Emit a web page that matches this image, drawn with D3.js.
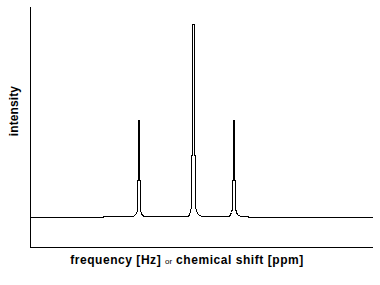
<!DOCTYPE html>
<html>
<head>
<meta charset="utf-8">
<script src="https://cdn.jsdelivr.net/npm/d3@7"></script>
<style>
  body { margin: 0; background: #fff; }
  svg { display: block; font-family: "Liberation Sans", Arial, sans-serif; }
</style>
</head>
<body>
<svg></svg>
<script>
// spectrum: frequency (arbitrary Hz) and intensity (arbitrary)
var freq = [0, 73, 73, 103, 104, 106, 107, 107, 108, 108, 109, 109, 110, 110, 111, 112, 114, 116,
            158, 159, 160, 161, 161, 162, 162, 164, 164, 165, 165, 166, 168, 171,
            199, 200, 201, 202, 202, 203, 203, 204, 204, 205, 205, 206, 207, 210, 218, 218, 342]
var intensity = [0, 0, 1, 1, 2, 4, 7, 37, 37, 97, 97, 37, 37, 7, 4, 2, 1, 1,
                 1, 3, 6, 11, 62, 62, 193, 193, 62, 62, 11, 6, 3, 1,
                 1, 3, 5, 9, 37, 37, 97, 97, 37, 37, 9, 5, 3, 1, 1, 0, 0]
var freqRange = [0, 342]
var intensityRange = [-30, 211]
var xLabel = ['frequency [Hz] ', 'or', ' chemical shift [ppm]']
var yLabel = 'intensity'

function main() {
    var svgWidth = 380, svgHeight = 285
    var svg = d3.select('svg').attr('width', svgWidth).attr('height', svgHeight)

    var xScale = d3.scaleLinear().domain(freqRange).range([30.5, 372.5])
    var yScale = d3.scaleLinear().domain(intensityRange).range([247.5, 6.5])

    // axes: just the two lines, no ticks
    svg.append('path')
        .attr('d', d3.line()([[xScale(freqRange[0]), yScale(intensityRange[1])],
                              [xScale(freqRange[0]), yScale(intensityRange[0])],
                              [xScale(freqRange[1]), yScale(intensityRange[0])]]))
        .attr('fill', 'none')
        .attr('stroke', '#000')
        .attr('shape-rendering', 'crispEdges')

    var points = freq.map(function(f, i) { return [f, intensity[i]] })
    var line = d3.line()
        .x(function(d) { return xScale(d[0]) })
        .y(function(d) { return yScale(d[1]) })

    svg.append('path')
        .datum(points)
        .attr('d', line)
        .attr('fill', 'none')
        .attr('stroke', '#000')
        .attr('stroke-width', 1)
        .attr('shape-rendering', 'crispEdges')

    // axis titles
    var xt = svg.append('text')
        .attr('x', 187)
        .attr('y', 264)
        .attr('text-anchor', 'middle')
        .attr('font-weight', 'bold')
        .attr('font-size', 12)
        .attr('letter-spacing', 0.55)
    xt.append('tspan').text(xLabel[0])
    xt.append('tspan').attr('font-weight', 'normal').attr('font-size', 8).attr('letter-spacing', 0).text(xLabel[1])
    xt.append('tspan').text(xLabel[2])

    svg.append('text')
        .attr('transform', 'translate(18,111) rotate(-90)')
        .attr('text-anchor', 'middle')
        .attr('font-weight', 'bold')
        .attr('font-size', 12)
        .attr('letter-spacing', 0.1)
        .text(yLabel)
}
main()
</script>
</body>
</html>
